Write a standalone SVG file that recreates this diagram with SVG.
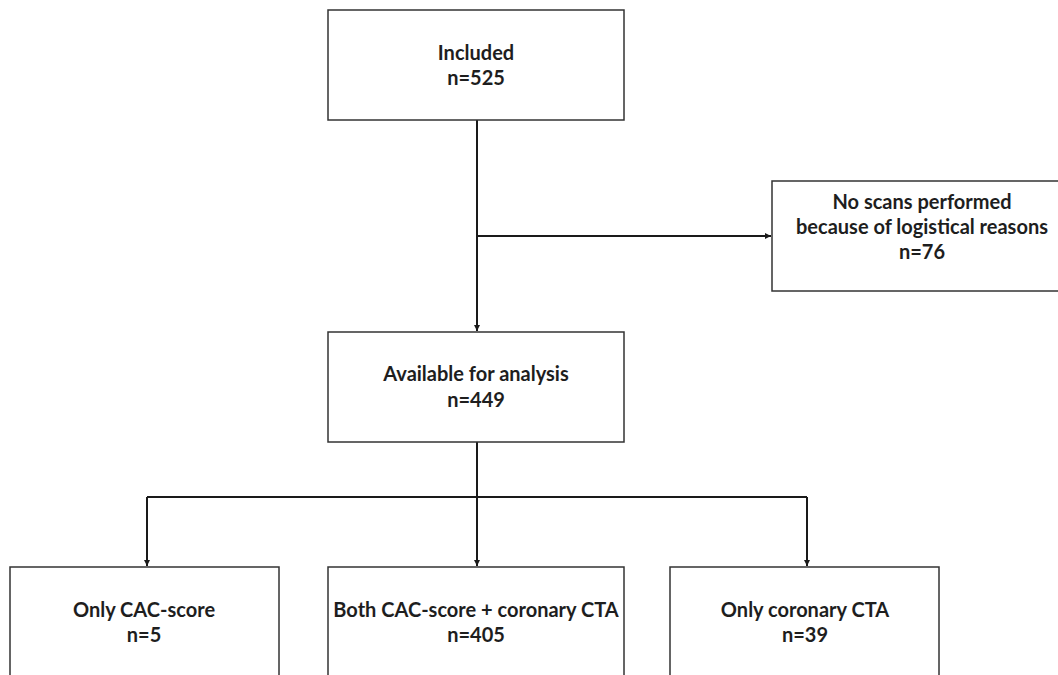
<svg xmlns="http://www.w3.org/2000/svg" width="1058" height="675" viewBox="0 0 1058 675">
<style>
.box{fill:#fff;stroke:#333;stroke-width:1.5}
.t{font-family:Lato,"Open Sans","Liberation Sans",sans-serif;font-weight:bold;font-size:20px;fill:#1e1e1e;text-anchor:middle}
.c{fill:none;stroke:#1a1a1a;stroke-width:2}
</style>
<defs>
<marker id="ah" viewBox="0 0 10 10" refX="10" refY="5" markerWidth="6" markerHeight="6" orient="auto" markerUnits="userSpaceOnUse"><path d="M0,0 L10,5 L0,10 z" fill="#1a1a1a"/></marker>
</defs>
<rect width="1058" height="675" fill="#fff"/>
<g id="connectors">
<path class="c" d="M477,120 V331" marker-end="url(#ah)"/>
<path class="c" d="M477,236 H771" marker-end="url(#ah)"/>
<path class="c" d="M477,442 V566" marker-end="url(#ah)"/>
<path class="c" d="M147,497 H807"/>
<path class="c" d="M147,497 V566" marker-end="url(#ah)"/>
<path class="c" d="M807,497 V566" marker-end="url(#ah)"/>
</g>
<g id="included">
<rect class="box" x="328" y="10" width="296" height="110"/>
<text class="t" x="476" y="60">Included</text>
<text class="t" x="476" y="85">n=525</text>
</g>
<g id="noscans">
<rect class="box" x="772" y="181" width="300" height="110"/>
<text class="t" x="922" y="209">No scans performed</text>
<text class="t" x="922" y="234">because of logistical reasons</text>
<text class="t" x="922" y="259">n=76</text>
</g>
<g id="available">
<rect class="box" x="328" y="332" width="296" height="110"/>
<text class="t" x="476" y="381">Available for analysis</text>
<text class="t" x="476" y="407">n=449</text>
</g>
<g id="onlycac">
<rect class="box" x="10" y="567" width="269" height="120"/>
<text class="t" x="144" y="617">Only CAC-score</text>
<text class="t" x="144" y="642">n=5</text>
</g>
<g id="both">
<rect class="box" x="328" y="567" width="296" height="120"/>
<text class="t" x="476" y="617">Both CAC-score + coronary CTA</text>
<text class="t" x="476" y="642">n=405</text>
</g>
<g id="onlycta">
<rect class="box" x="670" y="567" width="269" height="120"/>
<text class="t" x="805" y="617">Only coronary CTA</text>
<text class="t" x="805" y="642">n=39</text>
</g>
</svg>
